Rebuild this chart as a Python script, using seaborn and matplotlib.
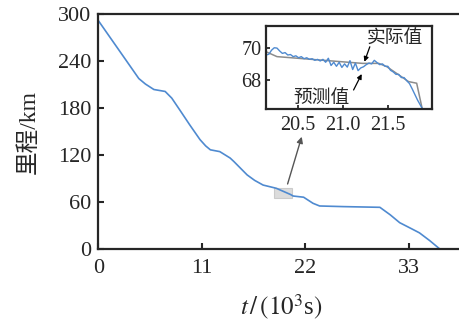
import matplotlib
matplotlib.use("Agg")
import matplotlib.pyplot as plt
import seaborn as sns
import pandas as pd
from matplotlib.patches import Rectangle

# ---- data ----
t_main = [0, 1.5, 3.0, 4.3, 5.0, 5.9, 7.1, 7.8, 8.7, 9.7, 10.8, 11.4, 11.9, 12.9,
          14.0, 14.4, 15.8, 16.6, 17.5, 18.9, 20.4, 20.7, 21.8, 22.8, 23.5, 26.0,
          29.9, 31.0, 32.0, 33.3, 34.1, 35.2, 36.3]
km_main = [292, 266.2, 240.4, 218, 211, 204, 201.5, 193, 177, 159, 140, 132, 127, 124.7,
           116.5, 112, 95, 88, 82, 77.9, 70, 68, 66.5, 58.7, 55.3, 54.5,
           53.6, 44, 34, 26, 21, 11, 0]

t_actual = [20.15, 20.27, 21.22, 21.40, 21.49, 21.73, 21.82, 21.88]
km_actual = [69.75, 69.45, 69.03, 69.03, 68.82, 67.90, 67.80, 66.25]

t_pred = [20.15, 20.18, 20.21, 20.24, 20.27, 20.30, 20.33, 20.36, 20.39, 20.42,
          20.45, 20.48, 20.51, 20.54, 20.57, 20.60, 20.63, 20.66, 20.69, 20.72,
          20.75, 20.78, 20.81, 20.84, 20.87, 20.90, 20.93, 20.96, 20.99, 21.02,
          21.05, 21.08, 21.11, 21.14, 21.17, 21.20, 21.23, 21.26, 21.29, 21.32,
          21.35, 21.38, 21.41, 21.44, 21.47, 21.50, 21.53, 21.56, 21.59, 21.62,
          21.65, 21.68, 21.71, 21.74, 21.77, 21.80, 21.83, 21.86, 21.89]
km_pred = [69.55, 69.60, 69.85, 70.00, 69.98, 69.80, 69.65, 69.70, 69.55, 69.58,
           69.45, 69.50, 69.38, 69.45, 69.32, 69.38, 69.28, 69.32, 69.22, 69.28,
           69.18, 69.28, 69.10, 69.35, 68.90, 69.10, 68.85, 69.10, 68.78, 69.00,
           68.80, 69.20, 68.65, 69.05, 68.58, 68.75, 68.82, 68.95, 69.05, 69.00,
           69.22, 69.08, 68.95, 69.00, 68.85, 68.85, 68.60, 68.50, 68.35, 68.35,
           68.15, 68.15, 67.95, 67.78, 67.45, 67.10, 66.75, 66.45, 66.15]

x_ticks = [0, 11, 22, 33]
y_ticks = [0, 60, 120, 180, 240, 300]
inset_xticks = [20.5, 21.0, 21.5]
inset_xticklabels = ["20.5", "21.0", "21.5"]
inset_yticks = [68, 70]

sns.set_style("ticks")
plt.rcParams['font.family'] = ['Liberation Serif', 'Noto Sans CJK SC']
plt.rcParams['mathtext.fontset'] = 'stix'

BLUE = "#4f8ad0"
GRAY = "#8c8c8c"

fig = plt.figure(figsize=(4.59, 3.23), dpi=100)
ax = fig.add_axes([98.3 / 459, (323 - 249.3) / 323, 1 - 98.3 / 459 + 0.01, (249.3 - 14.3) / 323])

df_main = pd.DataFrame({"t": t_main, "km": km_main})
sns.lineplot(data=df_main, x="t", y="km", ax=ax, color=BLUE, lw=1.2, sort=False)
ax.set_xlim(0, 38.3 + 0.01 * 459 / 9.415)
ax.set_ylim(0, 300)
ax.set_xticks(x_ticks)
ax.set_yticks(y_ticks)
ax.tick_params(direction="in", length=4, width=1.5, labelsize=16)
ax.tick_params(axis="x", pad=7)
ax.tick_params(axis="y", pad=5)
for s in ["left", "bottom", "top"]:
    ax.spines[s].set_linewidth(1.6)
ax.spines["right"].set_visible(False)
ax.set_xlabel(r"$t\,/\,(10^3$s$)$", fontsize=18, labelpad=11)
ax.set_ylabel("里程/km", fontsize=17, labelpad=13)

# zoom rectangle
ax.add_patch(Rectangle((18.7, 65.2), 1.9, 12.8, facecolor="#d9d9d9", edgecolor="#c8c8c8",
                       lw=0.8, alpha=0.9, zorder=1))
ax.annotate("", xy=(21.6, 143.7), xytext=(20.1, 83.4),
            arrowprops=dict(arrowstyle="-|>", color="#555555", lw=1.0,
                            mutation_scale=9, shrinkA=0, shrinkB=0))

# inset
ins = fig.add_axes([265.7 / 459, (323 - 109) / 323, (432 - 265.7) / 459, 83 / 323])
df_act = pd.DataFrame({"t": t_actual, "km": km_actual})
df_pred = pd.DataFrame({"t": t_pred, "km": km_pred})
sns.lineplot(data=df_act, x="t", y="km", ax=ins, color=GRAY, lw=1.1, sort=False)
sns.lineplot(data=df_pred, x="t", y="km", ax=ins, color=BLUE, lw=1.0, sort=False)
ins.set_xlim(20.145, 21.99)
ins.set_ylim(66.2, 71.35)
ins.set_xticks(inset_xticks)
ins.set_xticklabels(inset_xticklabels)
ins.set_yticks(inset_yticks)
ins.tick_params(direction="in", length=3, width=1.3, labelsize=14.5, pad=3)
ins.tick_params(axis="x", pad=5)
for s in ins.spines.values():
    s.set_linewidth(1.6)
ins.set_xlabel("")
ins.set_ylabel("")

ins.text(21.58, 70.6, "实际值", ha="center", va="center", fontsize=13.5,
         family=['Noto Sans CJK SC'], clip_on=False)
ins.annotate("", xy=(21.24, 69.13), xytext=(21.30, 70.06), annotation_clip=False,
             arrowprops=dict(arrowstyle="-|>", color="black", lw=0.9, mutation_scale=7,
                             shrinkA=0, shrinkB=0))
ins.text(20.76, 66.9, "预测值", ha="center", va="center", fontsize=13.5,
         family=['Noto Sans CJK SC'], clip_on=False)
ins.annotate("", xy=(21.21, 68.37), xytext=(21.12, 67.38), annotation_clip=False,
             arrowprops=dict(arrowstyle="-|>", color="black", lw=0.9, mutation_scale=7,
                             shrinkA=0, shrinkB=0))

fig.savefig("out.png", dpi=100)
